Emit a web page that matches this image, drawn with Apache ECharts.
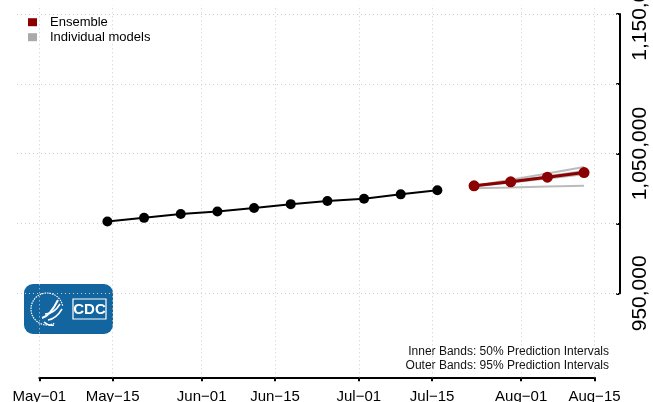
<!DOCTYPE html>
<html><head><meta charset="utf-8">
<script src="https://cdn.jsdelivr.net/npm/echarts@6/dist/echarts.min.js"></script>
<style>html,body{margin:0;padding:0;background:#fff}#c{width:653px;height:402px}</style>
</head><body><div id="c"></div>
<script>
// ---- data ----
const obsDates = ['2022-05-14','2022-05-21','2022-05-28','2022-06-04','2022-06-11','2022-06-18','2022-06-25','2022-07-02','2022-07-09','2022-07-16'];
const obsValues = [1001500,1004100,1006900,1008700,1011200,1013900,1016100,1017700,1020900,1023800];
const fcDates = ['2022-07-23','2022-07-30','2022-08-06','2022-08-13'];
const ensembleValues = [1027000,1029900,1033200,1036500];
const outerLower = [1025800,1028000,1030600,1033200];
const outerUpper = [1028000,1031800,1035800,1039800];
const innerLower = [1026500,1029200,1032200,1035200];
const innerUpper = [1027500,1030600,1034200,1037800];
const modelA = [1025200,1025800,1026500,1027100];
const modelB = [1026900,1031400,1035900,1040500];
const modelC = [1026800,1030300,1033800,1037600];
const modelD = [1026600,1029400,1032300,1035300];
const modelE = [1027000,1030000,1033400,1036900];
const xTickDates = ['2022-05-01','2022-05-15','2022-06-01','2022-06-15','2022-07-01','2022-07-15','2022-08-01','2022-08-15'];
const xTickLabels = ['May\u221201','May\u221215','Jun\u221201','Jun\u221215','Jul\u221201','Jul\u221215','Aug\u221201','Aug\u221215'];
const yTicks = [950000,1000000,1050000,1100000,1150000];
const yLabelShown = [950000,1050000,1150000];

// ---- helpers ----
const DAY = 86400000;
function t(s){const p=s.split('-');return Date.UTC(+p[0],+p[1]-1,+p[2]);}
const font = "'Liberation Sans', Arial, Helvetica, sans-serif";
const xTicks = xTickDates.map(t);
const X0 = xTicks[0], X1 = xTicks[xTicks.length-1];
const xMin = X0 - 4.26*DAY, xMax = X1 + 4.73*DAY;
const yMin = 890000, yMax = 1156400;
const pair = (ds, vs) => ds.map((d,i)=>[t(d), vs[i]]);
const diff = (hi, lo) => hi.map((v,i)=>v-lo[i]);
const fmt = v => v.toString().replace(/\B(?=(\d{3})+(?!\d))/g, ',');

const series = [];
// gridlines
series.push({type:'line', xAxisIndex:0, yAxisIndex:0, data:[[X0, 950000]], showSymbol:false, lineStyle:{opacity:0}, z:1, silent:true,
  markLine:{silent:true, symbol:['none','none'], label:{show:false}, animation:false,
    lineStyle:{color:'#cfcfcf', type:[1,3], width:1},
    data:[...xTicks.map(v=>({xAxis:v})), ...yTicks.map(v=>({yAxis:v}))]}});
// outer band
series.push({type:'line', name:'b95l', stack:'o', data:pair(fcDates, outerLower), showSymbol:false, lineStyle:{opacity:0}, z:2, silent:true});
series.push({type:'line', name:'b95u', stack:'o', data:pair(fcDates, diff(outerUpper, outerLower)), showSymbol:false, lineStyle:{opacity:0}, areaStyle:{color:'rgba(160,20,20,0.22)'}, z:2, silent:true});
// inner band
series.push({type:'line', name:'b50l', stack:'i', data:pair(fcDates, innerLower), showSymbol:false, lineStyle:{opacity:0}, z:3, silent:true});
series.push({type:'line', name:'b50u', stack:'i', data:pair(fcDates, diff(innerUpper, innerLower)), showSymbol:false, lineStyle:{opacity:0}, areaStyle:{color:'rgba(150,10,10,0.3)'}, z:3, silent:true});
// individual models
[modelA, modelB, modelC, modelD, modelE].forEach(m=>{
  series.push({type:'line', name:'Individual models', data:pair(fcDates, m), showSymbol:false, itemStyle:{color:'#aaaaaa'},
    lineStyle:{color:'rgba(150,150,150,0.65)', width:2}, z:4, silent:true});
});
// ensemble
series.push({type:'line', name:'Ensemble', data:pair(fcDates, ensembleValues), symbol:'circle', symbolSize:11,
  itemStyle:{color:'#8b0000'}, lineStyle:{color:'#8b0000', width:3}, z:5});
// observed
series.push({type:'line', name:'Observed', data:pair(obsDates, obsValues), symbol:'circle', symbolSize:10,
  itemStyle:{color:'#000'}, lineStyle:{color:'#000', width:2}, z:6});

const option = {
  animation:false,
  textStyle:{fontFamily:font},
  grid:[{left:17, right:33.7, top:5, bottom:24.7, outerBoundsMode:'none', containLabel:false},
    {left:39.3, right:58.5, top:5, bottom:24.7, outerBoundsMode:'none', containLabel:false},
    {left:17, right:33.7, top:14, bottom:108.7, outerBoundsMode:'none', containLabel:false}],
  xAxis:[
    {type:'value', gridIndex:0, min:xMin, max:xMax, show:false},
    {type:'value', gridIndex:1, min:X0, max:X1,
      axisLine:{show:true, onZero:false, lineStyle:{color:'#000', width:2}},
      axisTick:{show:true, customValues:xTicks, length:4, lineStyle:{color:'#000', width:2}},
      axisLabel:{customValues:xTicks, fontSize:15, color:'#000', fontFamily:font, margin:12,
        formatter:(v)=>{const i=xTicks.indexOf(v);return i>=0?xTickLabels[i]:'';}},
      splitLine:{show:false}},
    {type:'value', gridIndex:2, min:0, max:1, show:false}
  ],
  yAxis:[
    {type:'value', gridIndex:0, min:yMin, max:yMax, show:false},
    {type:'value', gridIndex:1, min:0, max:1, show:false},
    {type:'value', gridIndex:2, position:'right', min:950000, max:1150000, interval:50000,
      axisLine:{show:true, onZero:false, lineStyle:{color:'#000', width:2}},
      axisTick:{show:true, inside:true, length:3, lineStyle:{color:'#000', width:2}},
      axisLabel:{rotate:90, fontSize:21, color:'#000', fontFamily:font, margin:10, hideOverlap:false,
        formatter:(v)=> yLabelShown.indexOf(v)>=0 ? fmt(v) : ''},
      splitLine:{show:false}}
  ],
  legend:{orient:'vertical', left:28, top:14.7, padding:0, itemGap:0, itemWidth:9, itemHeight:8, icon:'rect',
    itemStyle:{borderWidth:0},
    textStyle:{fontSize:13, color:'#000', fontFamily:font, lineHeight:15, padding:[0,0,0,8]},
    data:[{name:'Ensemble', itemStyle:{color:'#8b0000'}}, {name:'Individual models', itemStyle:{color:'#aaaaaa'}}]},
  graphic:[
    {type:'text', right:653-609, top:346, style:{text:'Inner Bands: 50% Prediction Intervals', font:'12px '+font, fill:'#111', textAlign:'right'}},
    {type:'text', right:653-609, top:360, style:{text:'Outer Bands: 95% Prediction Intervals', font:'12px '+font, fill:'#111', textAlign:'right'}},
    {type:'group', left:24, top:284, children:[
      {type:'rect', shape:{x:0,y:0,width:89,height:50,r:9}, style:{fill:'#13659f'}},
      {type:'arc', shape:{cx:23,cy:25,r:16,startAngle:Math.PI*0.35,endAngle:Math.PI*1.95}, style:{stroke:'#fff', lineWidth:1.2, fill:null, lineDash:[1.5,1]}},
      {type:'bezierCurve', shape:{x1:18,y1:34,x2:34,y2:16,cpx1:26,cpy1:32}, style:{stroke:'#fff', lineWidth:2, fill:null}},
      {type:'bezierCurve', shape:{x1:21,y1:30,x2:36,y2:20,cpx1:30,cpy1:30}, style:{stroke:'#fff', lineWidth:1.5, fill:null}},
      {type:'bezierCurve', shape:{x1:24,y1:36,x2:38,y2:25,cpx1:32,cpy1:35}, style:{stroke:'#fff', lineWidth:1.5, fill:null}},
      {type:'bezierCurve', shape:{x1:20,y1:38,x2:30,y2:41,cpx1:24,cpy1:42}, style:{stroke:'#fff', lineWidth:1.5, fill:null}},
      {type:'rect', shape:{x:49,y:15,width:33,height:20}, style:{fill:null, stroke:'#fff', lineWidth:1.2}},
      {type:'text', x:65.5, y:25.5, style:{text:'CDC', font:'bold 15px '+font, fill:'#fff', textAlign:'center', textVerticalAlign:'middle'}}
    ]}
  ],
  series
};
const chart = echarts.init(document.getElementById('c'), null, {renderer:'canvas'});
chart.setOption(option);
</script></body></html>
